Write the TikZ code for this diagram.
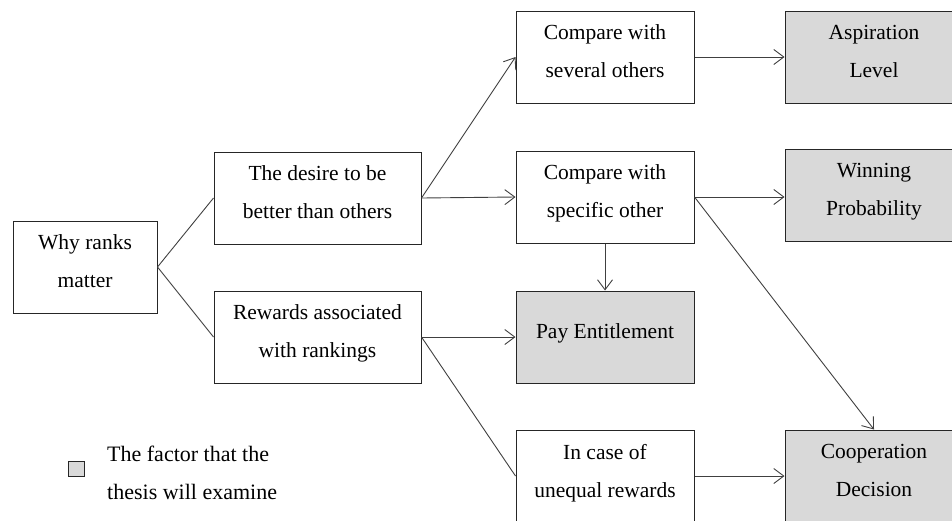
\documentclass[tikz,border=0pt]{standalone}
\usepackage{fontspec}
\setmainfont{Liberation Serif}
\usetikzlibrary{arrows.meta}
\definecolor{boxgray}{RGB}{217,217,217}
\definecolor{linegray}{RGB}{64,64,64}
\begin{document}
\begin{tikzpicture}[x=1pt,y=-1pt,
  box/.style={draw=black!85,line width=1pt,minimum width=178pt,minimum height=92pt,
    align=center,font=\fontsize{21.5}{38}\selectfont,inner sep=0pt,text depth=11pt},
  gbox/.style={box,fill=boxgray},
  wide/.style={minimum width=207pt},
  small/.style={minimum width=144pt},
  conn/.style={draw=linegray,line width=0.9pt},
  arr/.style={conn,-{Straight Barb[length=10pt,width=15pt,line width=0.9pt]}}]
\useasboundingbox (0,0) rectangle (952,520);
\clip (0,0) rectangle (952,520);
\node[box,small] (why) at (85,267) {Why ranks\\matter};
\node[box,wide] (desire) at (317.5,198) {The desire to be\\better than others};
\node[box,wide] (rewards) at (317.5,337) {Rewards associated\\with rankings};
\node[box] (several) at (605,57) {Compare with\\several others};
\node[box] (specific) at (605,197) {Compare with\\specific other};
\node[gbox] (pay) at (605,337) {Pay Entitlement};
\node[box] (incase) at (605,476) {In case of\\unequal rewards};
\node[gbox] (asp) at (874,57) {Aspiration\\Level};
\node[gbox] (win) at (874,195) {Winning\\Probability};
\node[gbox] (coop) at (874,476) {Cooperation\\Decision};
\node[draw=black!85,fill=boxgray,line width=0.8pt,minimum width=16pt,minimum height=15pt,inner sep=0pt] (leg) at (76,469) {};
\node[anchor=west,align=left,font=\fontsize{22}{38}\selectfont,inner sep=0pt] (legtext) at (107,473) {The factor that the\\thesis will examine};
\draw[conn] (why.east) -- (desire.west);
\draw[conn] (why.east) -- (rewards.west);
\draw[arr] (desire.east) -- (several.west);
\draw[arr] (desire.east) -- (specific.west);
\draw[arr] (several.east) -- (asp.west);
\draw[arr] (specific.east) -- (specific.east -| win.west);
\draw[arr] (specific.south) -- (pay.north);
\draw[arr] (specific.east) -- (coop.north);
\draw[arr] (rewards.east) -- (pay.west);
\draw[conn] (rewards.east) -- (incase.west);
\draw[arr] (incase.east) -- (coop.west);
\end{tikzpicture}
\end{document}
